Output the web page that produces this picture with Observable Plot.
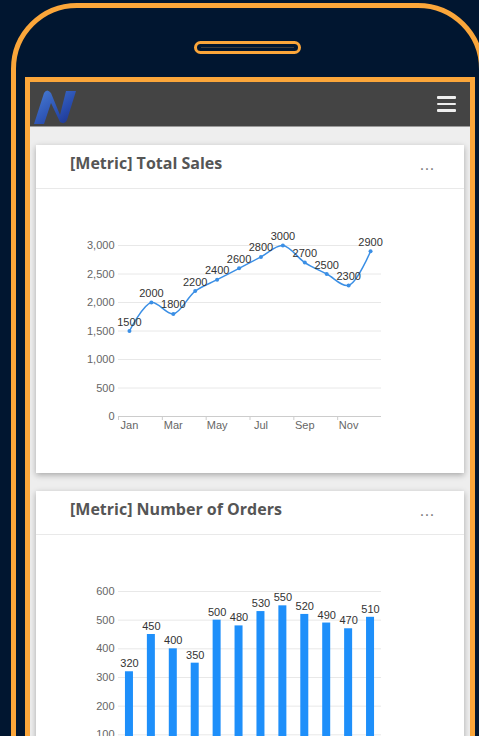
<!DOCTYPE html>
<html>
<head>
<meta charset="utf-8">
<script src="https://cdn.jsdelivr.net/npm/d3@7"></script>
<script src="https://cdn.jsdelivr.net/npm/@observablehq/plot@0.6"></script>
<style>
  html, body { margin: 0; padding: 0; }
  body { width: 479px; height: 736px; overflow: hidden; background: #011630; position: relative; font-family: "Open Sans", sans-serif; }
  .phone { position: absolute; left: 11px; top: 3px; width: 463px; height: 900px; border: 5px solid #fba63a; border-radius: 66px; box-sizing: content-box; }
  .speaker { position: absolute; left: 194px; top: 41px; width: 101px; height: 7px; border: 3px solid #fba63a; border-radius: 8px; background: #011630; }
  .speaker::after { content: ""; position: absolute; left: 4px; right: 4px; top: 3px; height: 1px; background: #3a3a3a; }
  .screen { position: absolute; left: 25px; top: 77px; width: 440px; height: 900px; border: 5px solid #fba63a; background: #eeeeee; overflow: hidden; }
  .header { position: absolute; left: 0; top: 0; width: 440px; height: 44px; background: #444444; border-bottom: 1px solid #9a9a9a; }
  .burger { position: absolute; left: 407px; top: 14px; width: 19px; }
  .burger div { height: 2.5px; background: #eeeeee; margin-bottom: 4px; border-radius: 1px; }
  .logo { position: absolute; left: 3px; top: 5px; }
  .card { position: absolute; left: 36px; width: 428px; background: #ffffff; box-shadow: 0 2px 6px rgba(0,0,0,0.3); }
  .card .title { position: absolute; left: 34px; top: 7px; font-weight: 700; font-size: 16px; color: #555555; white-space: nowrap; }
  .card .more { position: absolute; left: 384px; top: 9px; font-size: 15px; color: #777777; letter-spacing: 1px; }
  .card .divider { position: absolute; left: 0; width: 428px; height: 1px; background: #e9e9e9; }
  .chart { position: absolute; left: 36px; }
</style>
</head>
<body>
<div class="phone"></div>
<div class="speaker"></div>
<div class="screen">
  <div class="header">
    <svg class="logo" width="44" height="38" viewBox="0 0 44 38">
      <defs>
        <linearGradient id="lg" x1="0" y1="0" x2="1" y2="1">
          <stop offset="0" stop-color="#4a7fd6"/>
          <stop offset="0.6" stop-color="#2a4fb0"/>
          <stop offset="1" stop-color="#1a2f8a"/>
        </linearGradient>
      </defs>
      <path d="M1,37 L11,6 Q14,1 18,6 L27,28 L33,4 L43,4 L34,33 Q32,38 27,35 L18,16 L11,37 Z" fill="url(#lg)"/>
    </svg>
    <div class="burger"><div></div><div></div><div></div></div>
  </div>
</div>

<div class="card" style="top:145px;height:328px;">
  <div class="title">[Metric] Total Sales</div>
  <div class="more">...</div>
  <div class="divider" style="top:43px;"></div>
</div>
<div class="card" style="top:491px;height:320px;">
  <div class="title">[Metric] Number of Orders</div>
  <div class="more">...</div>
  <div class="divider" style="top:43px;"></div>
</div>

<div id="chart1" class="chart" style="top:190px;"></div>
<div id="chart2" class="chart" style="top:536px;"></div>

<script>
const months = ["Jan","Feb","Mar","Apr","May","Jun","Jul","Aug","Sep","Oct","Nov","Dec"];
const sales = [1500,2000,1800,2200,2400,2600,2800,3000,2700,2500,2300,2900];
const orders = [320,450,400,350,500,480,530,550,520,490,470,510];
const salesTicks = [0,500,1000,1500,2000,2500,3000];
const orderTicks = [0,100,200,300,400,500,600];
const monthLabels = ["Jan","Mar","May","Jul","Sep","Nov"];

const salesData = months.map((m, i) => ({month: m, value: sales[i]}));
const ordersData = months.map((m, i) => ({month: m, value: orders[i]}));

const font = {fontFamily: "'Liberation Sans', Arial, sans-serif", fontSize: "11px", background: "transparent", overflow: "visible"};

const chart1 = Plot.plot({
  width: 428, height: 250,
  marginLeft: 82, marginRight: 83, marginTop: 55, marginBottom: 24,
  style: font,
  x: {type: "point", domain: months, padding: 0.5, round: false},
  y: {domain: [0, 3000]},
  marks: [
    Plot.gridY(salesTicks.filter(d => d > 0), {stroke: "#e8e8e8", strokeOpacity: 1}),
    Plot.axisY(salesTicks, {tickSize: 0, tickPadding: 4, tickFormat: d3.format(","), fill: "#666", label: null}),
    Plot.ruleY([0], {stroke: "#cccccc"}),
    Plot.axisX(monthLabels, {tickSize: 0, tickPadding: 5, fill: "#666", label: null}),
    Plot.axisX(monthLabels, {tickSize: 4, tickFormat: () => "", dx: -263 / 24, stroke: "#cccccc", label: null}),
    Plot.line(salesData, {x: "month", y: "value", curve: "catmull-rom", stroke: "#3b8fe5", strokeWidth: 1.5}),
    Plot.dot(salesData, {x: "month", y: "value", r: 2, fill: "#3b8fe5"}),
    Plot.text(salesData, {x: "month", y: "value", text: d => String(d.value), dy: -9, fill: "#333", fontSize: 11})
  ]
});
document.getElementById("chart1").appendChild(chart1);

const chart2 = Plot.plot({
  width: 428, height: 251,
  marginLeft: 82, marginRight: 83, marginTop: 55, marginBottom: 24,
  style: font,
  x: {type: "band", domain: months, paddingInner: 0.635, paddingOuter: 0.3175, round: false},
  y: {domain: [0, 600]},
  marks: [
    Plot.gridY(orderTicks.filter(d => d > 0), {stroke: "#e8e8e8", strokeOpacity: 1}),
    Plot.axisY(orderTicks, {tickSize: 0, tickPadding: 4, fill: "#666", label: null}),
    Plot.ruleY([0], {stroke: "#cccccc"}),
    Plot.barY(ordersData, {x: "month", y: "value", fill: "#1e8ffa"}),
    Plot.text(ordersData, {x: "month", y: "value", text: d => String(d.value), dy: -8, fill: "#333", fontSize: 11})
  ]
});
document.getElementById("chart2").appendChild(chart2);
</script>
</body>
</html>
